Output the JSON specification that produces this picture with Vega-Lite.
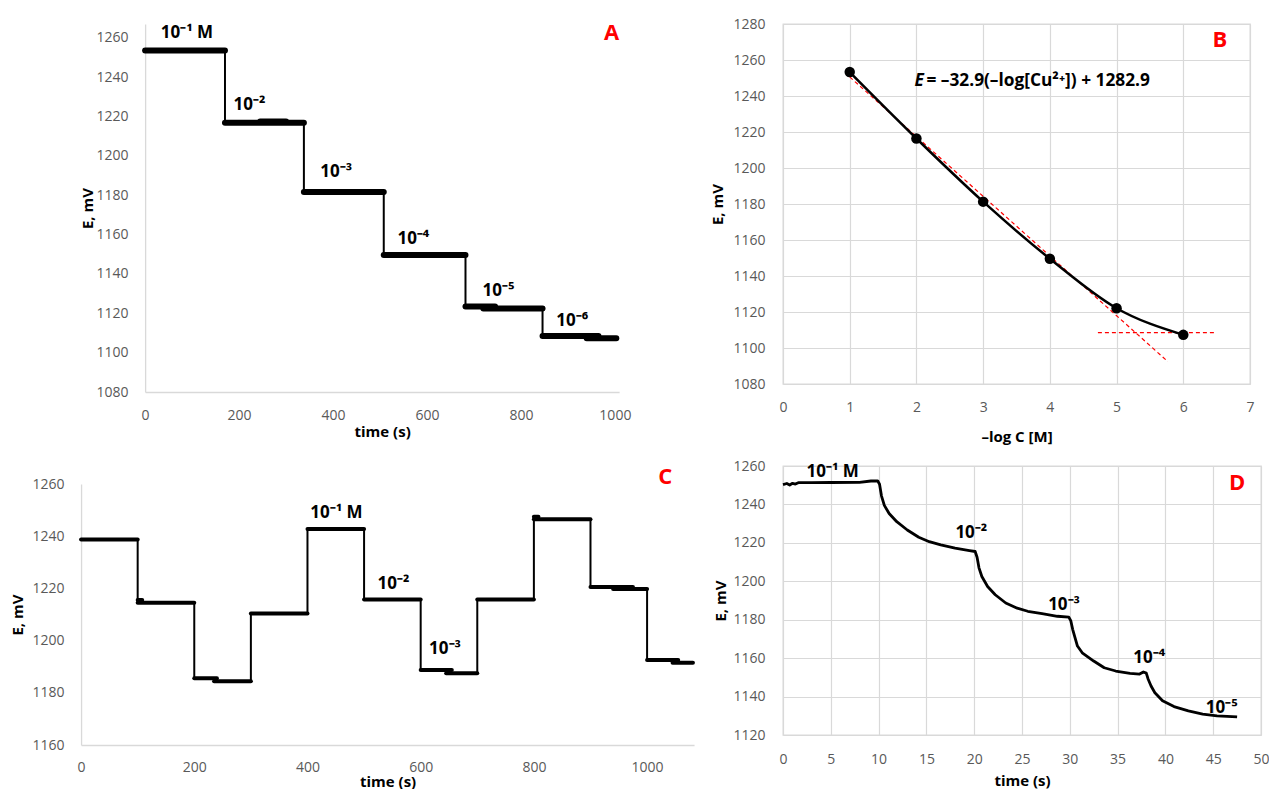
{
  "$schema": "https://vega.github.io/schema/vega-lite/v6.json",
  "autosize": {"type": "pad"},
  "padding": {"left": 10, "top": 16, "right": 0, "bottom": 0},
  "background": "white",
  "config": {
    "font": "Open Sans",
    "view": {"stroke": null},
    "axis": {
      "labelFont": "Open Sans", "labelFontSize": 14, "labelColor": "#595959",
      "titleFont": "Open Sans", "titleFontSize": 15, "titleFontWeight": "bold", "titleColor": "#000000",
      "ticks": false, "domainColor": "#d9d9d9", "domainWidth": 1.3, "gridColor": "#d9d9d9", "gridWidth": 1.2,
      "grid": false, "labelFlush": false, "labelOverlap": false, "labelPadding": 17, "format": "d"
    },
    "text": {"font": "Open Sans"}
  },
  "datasets": {
    "A_steps": [
      {"t": 0, "tEnd": 170, "E": 1253.5},
      {"t": 170, "tEnd": 338, "E": 1216.8},
      {"t": 245, "tEnd": 300, "E": 1217.4},
      {"t": 338, "tEnd": 508, "E": 1181.6},
      {"t": 508, "tEnd": 682, "E": 1149.6},
      {"t": 682, "tEnd": 745, "E": 1123.4},
      {"t": 720, "tEnd": 846, "E": 1122.4},
      {"t": 846, "tEnd": 965, "E": 1108.4},
      {"t": 940, "tEnd": 1003, "E": 1107.3}
    ],
    "A_drops": [
      {"t": 170, "E": 1253.5, "EEnd": 1216.8},
      {"t": 338, "E": 1216.8, "EEnd": 1181.6},
      {"t": 508, "E": 1181.6, "EEnd": 1149.6},
      {"t": 682, "E": 1149.6, "EEnd": 1123.4},
      {"t": 846, "E": 1122.4, "EEnd": 1108.4}
    ],
    "A_labels": [
      {"t": 89, "E": 1262.5, "label": "10⁻¹ M"},
      {"t": 222, "E": 1226, "label": "10⁻²"},
      {"t": 407, "E": 1191.8, "label": "10⁻³"},
      {"t": 571, "E": 1157.9, "label": "10⁻⁴"},
      {"t": 752, "E": 1131.3, "label": "10⁻⁵"},
      {"t": 909, "E": 1116, "label": "10⁻⁶"}
    ],
    "A_letter": [{"t": 993, "E": 1262.5, "label": "A"}],
    "C_steps": [
      {"t": 0, "tEnd": 100, "E": 1238.7},
      {"t": 100, "tEnd": 108, "E": 1215.6},
      {"t": 100, "tEnd": 200, "E": 1214.5},
      {"t": 200, "tEnd": 240, "E": 1185.6},
      {"t": 235, "tEnd": 300, "E": 1184.4},
      {"t": 300, "tEnd": 400, "E": 1210.4},
      {"t": 400, "tEnd": 500, "E": 1242.8},
      {"t": 500, "tEnd": 600, "E": 1215.7},
      {"t": 600, "tEnd": 655, "E": 1188.7},
      {"t": 645, "tEnd": 700, "E": 1187.5},
      {"t": 700, "tEnd": 800, "E": 1215.7},
      {"t": 800, "tEnd": 808, "E": 1247.5},
      {"t": 800, "tEnd": 900, "E": 1246.5},
      {"t": 900, "tEnd": 975, "E": 1220.5},
      {"t": 940, "tEnd": 1000, "E": 1219.8},
      {"t": 1000, "tEnd": 1055, "E": 1192.6},
      {"t": 1045, "tEnd": 1081, "E": 1191.5}
    ],
    "C_drops": [
      {"t": 100, "E": 1238.7, "EEnd": 1214.5},
      {"t": 200, "E": 1214.5, "EEnd": 1185.6},
      {"t": 300, "E": 1184.4, "EEnd": 1210.4},
      {"t": 400, "E": 1210.4, "EEnd": 1242.8},
      {"t": 500, "E": 1242.8, "EEnd": 1215.7},
      {"t": 600, "E": 1215.7, "EEnd": 1188.7},
      {"t": 700, "E": 1187.5, "EEnd": 1215.7},
      {"t": 800, "E": 1215.7, "EEnd": 1247.5},
      {"t": 900, "E": 1246.5, "EEnd": 1220.5},
      {"t": 1000, "E": 1219.8, "EEnd": 1192.6}
    ],
    "C_labels": [
      {"t": 451, "E": 1249, "label": "10⁻¹ M"},
      {"t": 552, "E": 1221.7, "label": "10⁻²"},
      {"t": 643, "E": 1196.8, "label": "10⁻³"}
    ],
    "C_letter": [{"t": 1032, "E": 1262.7, "label": "C"}],
    "B_points": [
      {"x": 1, "E": 1253.3},
      {"x": 2, "E": 1216.4},
      {"x": 3, "E": 1181.3},
      {"x": 4, "E": 1149.6},
      {"x": 5, "E": 1122.1},
      {"x": 6, "E": 1107.3}
    ],
    "B_dashed": [
      {"seg": "fit", "x": 1, "E": 1250.6},
      {"seg": "fit", "x": 5.77, "E": 1092.4},
      {"seg": "floor", "x": 4.72, "E": 1108.5},
      {"seg": "floor", "x": 6.49, "E": 1108.5}
    ],
    "B_eqE": [{"x": 1.97, "E": 1248.3, "label": "E"}],
    "B_eq": [{"x": 2.15, "E": 1248.3, "label": "= –32.9(–log[Cu²⁺]) + 1282.9"}],
    "B_letter": [{"x": 6.55, "E": 1271, "label": "B"}],
    "D_curve": [
      {"t": 0, "E": 1250.3}, {"t": 0.4, "E": 1250.9}, {"t": 0.7, "E": 1250.1}, {"t": 1.0, "E": 1251.0},
      {"t": 1.3, "E": 1250.6}, {"t": 1.6, "E": 1251.3}, {"t": 3, "E": 1251.3}, {"t": 5, "E": 1251.4},
      {"t": 8, "E": 1251.5}, {"t": 9.2, "E": 1252.2}, {"t": 9.9, "E": 1252.3}, {"t": 10.1, "E": 1250.5},
      {"t": 10.3, "E": 1244.5}, {"t": 10.6, "E": 1239.5}, {"t": 11.1, "E": 1235.3}, {"t": 11.9, "E": 1231},
      {"t": 13.0, "E": 1226.7}, {"t": 14.2, "E": 1222.9}, {"t": 15.3, "E": 1220.6}, {"t": 16.5, "E": 1218.9},
      {"t": 18.0, "E": 1217.2}, {"t": 19.5, "E": 1216}, {"t": 20.1, "E": 1215.5}, {"t": 20.3, "E": 1212.5},
      {"t": 20.5, "E": 1207}, {"t": 20.8, "E": 1202.5}, {"t": 21.4, "E": 1197.3}, {"t": 22.2, "E": 1193},
      {"t": 23.3, "E": 1188.7}, {"t": 24.5, "E": 1186}, {"t": 25.6, "E": 1184.4}, {"t": 27.1, "E": 1183.2},
      {"t": 28.7, "E": 1181.8}, {"t": 29.9, "E": 1181.3}, {"t": 30.1, "E": 1179.5}, {"t": 30.3, "E": 1175},
      {"t": 30.5, "E": 1171.4}, {"t": 30.8, "E": 1166.3}, {"t": 31.3, "E": 1162.8}, {"t": 32.5, "E": 1158.5},
      {"t": 33.6, "E": 1155}, {"t": 34.8, "E": 1153.3}, {"t": 36.3, "E": 1152.1}, {"t": 37.3, "E": 1151.7},
      {"t": 37.7, "E": 1152.8}, {"t": 38.0, "E": 1152.2}, {"t": 38.2, "E": 1149}, {"t": 38.5, "E": 1145.5},
      {"t": 38.9, "E": 1142}, {"t": 39.7, "E": 1137.8}, {"t": 40.9, "E": 1134.8}, {"t": 42.4, "E": 1132.6},
      {"t": 43.9, "E": 1130.9}, {"t": 45.4, "E": 1130}, {"t": 47.5, "E": 1129.4}
    ],
    "D_labels": [
      {"t": 5.2, "E": 1256.9, "label": "10⁻¹ M"},
      {"t": 19.7, "E": 1225, "label": "10⁻²"},
      {"t": 29.4, "E": 1187.8, "label": "10⁻³"},
      {"t": 38.3, "E": 1160.2, "label": "10⁻⁴"},
      {"t": 45.9, "E": 1134.3, "label": "10⁻⁵"}
    ],
    "D_letter": [{"t": 47.5, "E": 1250.9, "label": "D"}]
  },
  "spacing": 15,
  "hconcat": [
    {
      "center": true,
      "spacing": 26,
      "vconcat": [
        {
          "width": 474,
          "height": 368,
          "encoding": {
            "x": {"field": "t", "type": "quantitative", "title": "time (s)",
                  "scale": {"domain": [0, 1009], "nice": false},
                  "axis": {"values": [0, 200, 400, 600, 800, 1000], "labelPadding": 16, "titlePadding": 2, "labelOverlap": false}},
            "y": {"field": "E", "type": "quantitative", "title": "E, mV",
                  "scale": {"domain": [1080, 1267], "nice": false, "zero": false},
                  "axis": {"values": [1080, 1100, 1120, 1140, 1160, 1180, 1200, 1220, 1240, 1260], "titlePadding": 1, "labelOverlap": false}}
          },
          "layer": [
            {
              "data": {"name": "A_steps"},
              "mark": {"type": "rule", "strokeWidth": 6, "strokeCap": "round", "color": "#000000"},
              "encoding": {"x2": {"field": "tEnd"}}
            },
            {
              "data": {"name": "A_drops"},
              "mark": {"type": "rule", "strokeWidth": 2, "color": "#000000"},
              "encoding": {"y2": {"field": "EEnd"}}
            },
            {
              "data": {"name": "A_labels"},
              "mark": {"type": "text", "fontSize": 17, "fontWeight": "bold", "color": "#000000"},
              "encoding": {"text": {"field": "label"}}
            },
            {
              "data": {"name": "A_letter"},
              "mark": {"type": "text", "fontSize": 22, "fontWeight": "bold", "color": "#ff0000"},
              "encoding": {"text": {"field": "label"}}
            }
          ]
        },
        {
          "width": 613,
          "height": 261,
          "encoding": {
            "x": {"field": "t", "type": "quantitative", "title": "time (s)",
                  "scale": {"domain": [0, 1083], "nice": false},
                  "axis": {"values": [0, 200, 400, 600, 800, 1000], "labelPadding": 15, "titlePadding": 0, "labelOverlap": false}},
            "y": {"field": "E", "type": "quantitative", "title": "E, mV",
                  "scale": {"domain": [1160, 1260], "nice": false, "zero": false},
                  "axis": {"values": [1160, 1180, 1200, 1220, 1240, 1260], "titlePadding": 7, "labelOverlap": false}}
          },
          "layer": [
            {
              "data": {"name": "C_steps"},
              "mark": {"type": "rule", "strokeWidth": 4, "strokeCap": "round", "color": "#000000"},
              "encoding": {"x2": {"field": "tEnd"}}
            },
            {
              "data": {"name": "C_drops"},
              "mark": {"type": "rule", "strokeWidth": 2, "color": "#000000"},
              "encoding": {"y2": {"field": "EEnd"}}
            },
            {
              "data": {"name": "C_labels"},
              "mark": {"type": "text", "fontSize": 17, "fontWeight": "bold", "color": "#000000"},
              "encoding": {"text": {"field": "label"}}
            },
            {
              "data": {"name": "C_letter"},
              "mark": {"type": "text", "fontSize": 22, "fontWeight": "bold", "color": "#ff0000"},
              "encoding": {"text": {"field": "label"}}
            }
          ]
        }
      ]
    },
    {
      "spacing": 13,
      "vconcat": [
        {
          "width": 467,
          "height": 360,
          "view": {"stroke": "#d9d9d9", "strokeWidth": 1.3},
          "encoding": {
            "x": {"field": "x", "type": "quantitative", "title": "–log C [M]",
                  "scale": {"domain": [0, 7], "nice": false},
                  "axis": {"values": [0, 1, 2, 3, 4, 5, 6, 7], "grid": true, "domain": false, "labelPadding": 16, "titlePadding": 15, "labelOverlap": false}},
            "y": {"field": "E", "type": "quantitative", "title": "E, mV",
                  "scale": {"domain": [1080, 1280], "nice": false, "zero": false},
                  "axis": {"values": [1080, 1100, 1120, 1140, 1160, 1180, 1200, 1220, 1240, 1260, 1280], "grid": true, "domain": false, "labelPadding": 18, "titlePadding": 7, "labelOverlap": false}}
          },
          "layer": [
            {
              "data": {"name": "B_dashed"},
              "mark": {"type": "line", "color": "#ff0000", "strokeWidth": 1.2, "strokeDash": [4, 3]},
              "encoding": {"detail": {"field": "seg"}}
            },
            {
              "data": {"name": "B_points"},
              "mark": {"type": "line", "color": "#000000", "strokeWidth": 2.5, "interpolate": "monotone"}
            },
            {
              "data": {"name": "B_points"},
              "mark": {"type": "point", "shape": "circle", "filled": true, "color": "#000000", "size": 110, "opacity": 1}
            },
            {
              "data": {"name": "B_eqE"},
              "mark": {"type": "text", "fontSize": 17.3, "fontWeight": "bold", "fontStyle": "italic", "align": "left", "color": "#000000"},
              "encoding": {"text": {"field": "label"}}
            },
            {
              "data": {"name": "B_eq"},
              "mark": {"type": "text", "fontSize": 17.3, "fontWeight": "bold", "align": "left", "color": "#000000"},
              "encoding": {"text": {"field": "label"}}
            },
            {
              "data": {"name": "B_letter"},
              "mark": {"type": "text", "fontSize": 22, "fontWeight": "bold", "color": "#ff0000"},
              "encoding": {"text": {"field": "label"}}
            }
          ]
        },
        {
          "width": 478,
          "height": 269,
          "view": {"stroke": "#d9d9d9", "strokeWidth": 1.3},
          "encoding": {
            "x": {"field": "t", "type": "quantitative", "title": "time (s)",
                  "scale": {"domain": [0, 50], "nice": false},
                  "axis": {"values": [0, 5, 10, 15, 20, 25, 30, 35, 40, 45, 50], "grid": true, "domain": false, "labelPadding": 17, "titlePadding": 7, "labelOverlap": false}},
            "y": {"field": "E", "type": "quantitative", "title": "E, mV",
                  "scale": {"domain": [1120, 1260], "nice": false, "zero": false},
                  "axis": {"values": [1120, 1140, 1160, 1180, 1200, 1220, 1240, 1260], "grid": true, "domain": false, "labelPadding": 18, "titlePadding": 4, "labelOverlap": false}}
          },
          "layer": [
            {
              "data": {"name": "D_curve"},
              "mark": {"type": "line", "color": "#000000", "strokeWidth": 2.8, "strokeJoin": "round"}
            },
            {
              "data": {"name": "D_labels"},
              "mark": {"type": "text", "fontSize": 17, "fontWeight": "bold", "color": "#000000"},
              "encoding": {"text": {"field": "label"}}
            },
            {
              "data": {"name": "D_letter"},
              "mark": {"type": "text", "fontSize": 22, "fontWeight": "bold", "color": "#ff0000"},
              "encoding": {"text": {"field": "label"}}
            }
          ]
        }
      ]
    }
  ]
}
